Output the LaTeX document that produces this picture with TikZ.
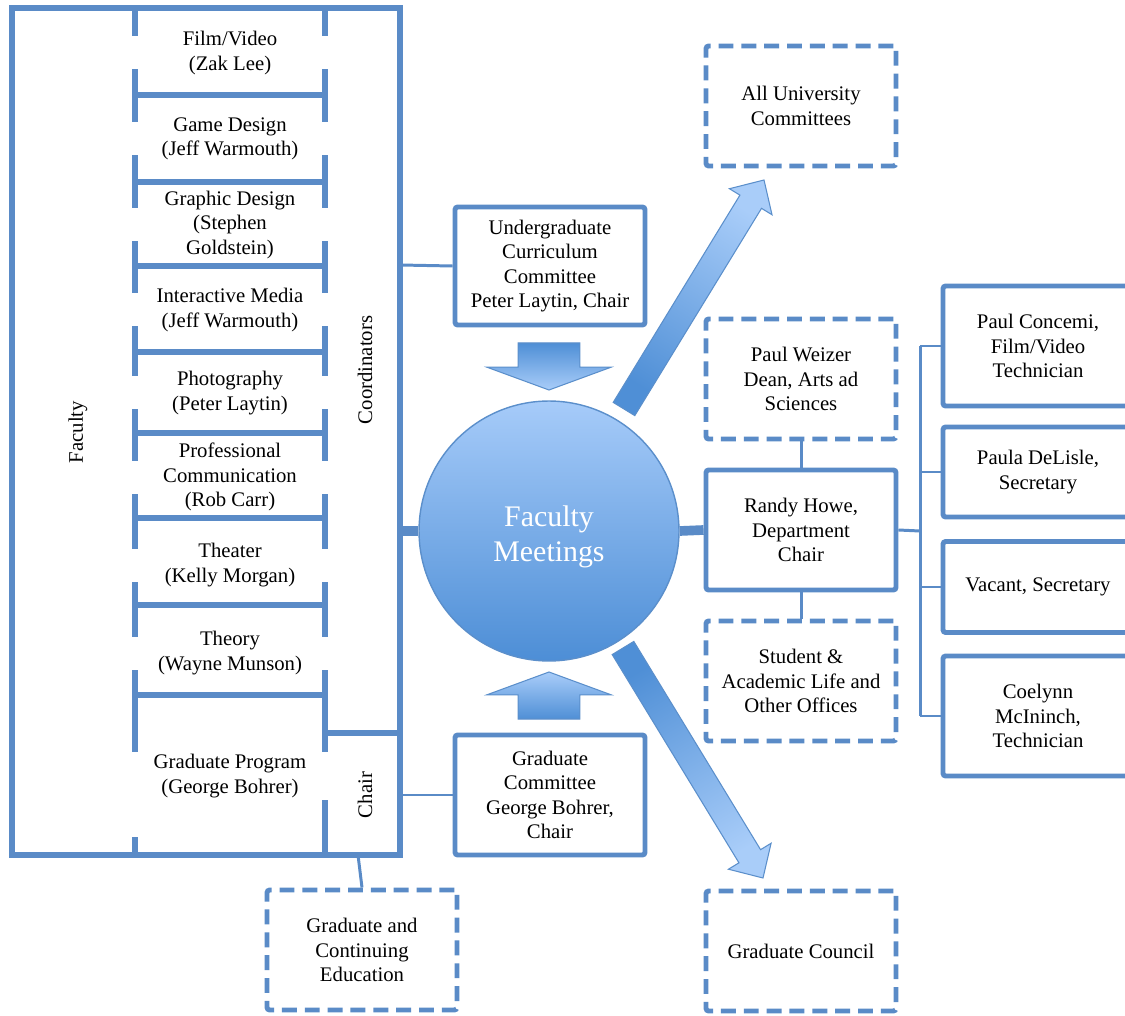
\documentclass[tikz,border=0pt]{standalone}
\usepackage{fontspec}
\setmainfont{Liberation Serif}
\usetikzlibrary{calc}
\definecolor{line}{HTML}{5A8BC7}
\definecolor{arrowedge}{HTML}{5B8FCB}
\definecolor{arrowdark}{HTML}{4F8FD6}
\definecolor{arrowlight}{HTML}{A9CDF9}
\definecolor{ballhi}{HTML}{A6CBF9}
\definecolor{balllo}{HTML}{4D8ED6}
\newcommand{\lbl}{\fontsize{11.8}{13.8}\selectfont}
\tikzset{
  frame/.style={draw=line, line width=3pt},
  link/.style={draw=line, line width=1.7pt},
  bar/.style={draw=line, line width=5.5pt},
  box/.style={draw=line, line width=2.8pt, fill=white, rounded corners=1.5pt,
    minimum width=3.8cm, minimum height=2.4cm, align=center, font=\lbl},
  dashbox/.style={box, dash pattern=on 8.5pt off 4.5pt},
  unit/.style={align=center, font=\lbl},
  side/.style={rotate=90, font=\lbl},
  fatarrow/.style={draw=arrowedge, line width=0.6pt, top color=arrowdark, bottom color=arrowlight},
  ball/.style={circle, draw=arrowedge, line width=0.8pt, top color=ballhi, bottom color=balllo,
    minimum size=5.2cm},
  balltext/.style={align=center, text=white, font=\fontsize{17}{20}\selectfont}
}
\newcommand{\FatArrow}[6]{% tail, tip, shaft half, head half, head length, shading angle
  \coordinate (hb) at ($(#2)!#5!(#1)$);
  \path[fatarrow, shading angle=#6] ($(#1)!#3!90:(#2)$) -- ($(hb)!#3!90:(#2)$)
    -- ($(hb)!#4!90:(#2)$) -- (#2) -- ($(hb)!#4!-90:(#2)$)
    -- ($(hb)!#3!-90:(#2)$) -- ($(#1)!#3!-90:(#2)$) -- cycle;
}

\begin{document}
\begin{tikzpicture}[x=0.02cm, y=-0.02cm]
  \useasboundingbox (0,0) rectangle (1125,1016);
  \clip (0,0) rectangle (1125,1016);
  \fill[white] (0,0) rectangle (1125,1016);

  % faculty frame
  \draw[frame] (12,8) rectangle (400,855);
  \draw[frame] (135,8) -- (135,855);
  \draw[frame] (325,8) -- (325,855);
  \draw[frame] (325,733) -- (400,733);
  \foreach \y in {95,182,266,352,433,518,605,695}
    \draw[frame] (135,\y) -- (325,\y);

  \foreach \cy/\gh/\txt [count=\i] in {
      53/33/{Film/Video\\(Zak Lee)},
      139/33/{Game Design\\(Jeff Warmouth)},
      225/33/{Graphic Design\\(Stephen\\Goldstein)},
      310/33/{Interactive Media\\(Jeff Warmouth)},
      393/33/{Photography\\(Peter Laytin)},
      477/33/{Professional\\Communication\\(Rob Carr)},
      565/33/{Theater\\(Kelly Morgan)},
      653/33/{Theory\\(Wayne Munson)},
      776/48/{Graduate Program\\(George Bohrer)}} {
    \fill[white] (128,\cy-\gh/2) rectangle (332,\cy+\gh/2);
    \node[unit] (u\i) at (230,\cy) {\txt};
  }
  \fill[white] (128,800) rectangle (142,837);

  \node[side] (faclbl) at (78,432) {Faculty};
  \node[side] (coordlbl) at (365,370) {Coordinators};
  \node[side] (chairlbl) at (365,795) {Chair};

  \coordinate (ugcfoot) at (400,265);
  \coordinate (cright) at (400,531);
  \coordinate (chairR) at (400,795);
  \coordinate (chairB) at (358,855);

  % committees and offices
  \node[box, minimum height=2.36cm] (ugc) at (550,266)
    {Undergraduate\\Curriculum\\Committee\\Peter Laytin, Chair};
  \node[box] (gcom) at (550,795) {Graduate\\Committee\\George Bohrer,\\Chair};
  \node[dashbox] (gcont) at (362,950) {Graduate and\\Continuing\\Education};
  \node[dashbox] (allcom) at (801,106) {All University\\Committees};
  \node[dashbox] (weizer) at (801,379) {Paul Weizer\\Dean, Arts ad\\Sciences};
  \node[box] (howe) at (801,530) {Randy Howe,\\Department\\Chair};
  \node[dashbox] (student) at (801,681) {Student \&\\Academic Life and\\Other Offices};
  \node[dashbox] (gcouncil) at (801,951) {Graduate Council};

  \node[box] (concemi) at (1038,346) {Paul Concemi,\\Film/Video\\Technician};
  \node[box, minimum height=1.8cm] (paula) at (1038,472) {Paula DeLisle,\\Secretary};
  \node[box, minimum height=1.82cm] (vacant) at (1038,587) {Vacant, Secretary};
  \node[box] (coelynn) at (1038,716) {Coelynn\\McIninch,\\Technician};

  \draw[link] (ugcfoot) -- (ugc.west);
  \draw[link] (chairR) -- (gcom.west);
  \draw[link] (chairB) -- (gcont.north);
  \draw[link] (weizer.south) -- (howe.north);
  \draw[link] (howe.south) -- (student.north);

  \coordinate (bus) at (920,531);
  \draw[link] (howe.east) -- (bus);
  \draw[link] (bus |- concemi.west) -- (bus |- coelynn.west);
  \foreach \n in {concemi,paula,vacant,coelynn}
    \draw[link] (bus |- \n.west) -- (\n.west);

  % meeting
  \node[ball] (meet) at (549,531) {};
  \node[balltext] (meettxt) at (549,537) {Faculty\\Meetings};
  \draw[bar] (cright) -- (meet.west);
  \draw[bar] (meet.east) -- (howe.west);

  \coordinate (dnA) at (549,343);
  \coordinate (dnB) at (549,390);
  \coordinate (upA) at (549,719);
  \coordinate (upB) at (549,672);
  \coordinate (neA) at (624,409);
  \coordinate (neB) at (764,180);
  \coordinate (seA) at (623,648);
  \coordinate (seB) at (763,878);
  \FatArrow{dnA}{dnB}{17.6pt}{35.4pt}{13pt}{0}
  \FatArrow{upA}{upB}{17.6pt}{35.4pt}{13pt}{180}
  \FatArrow{neA}{neB}{7.2pt}{14.2pt}{14.5pt}{148}
  \FatArrow{seA}{seB}{7.2pt}{14.2pt}{14.5pt}{31}
\end{tikzpicture}
\end{document}
